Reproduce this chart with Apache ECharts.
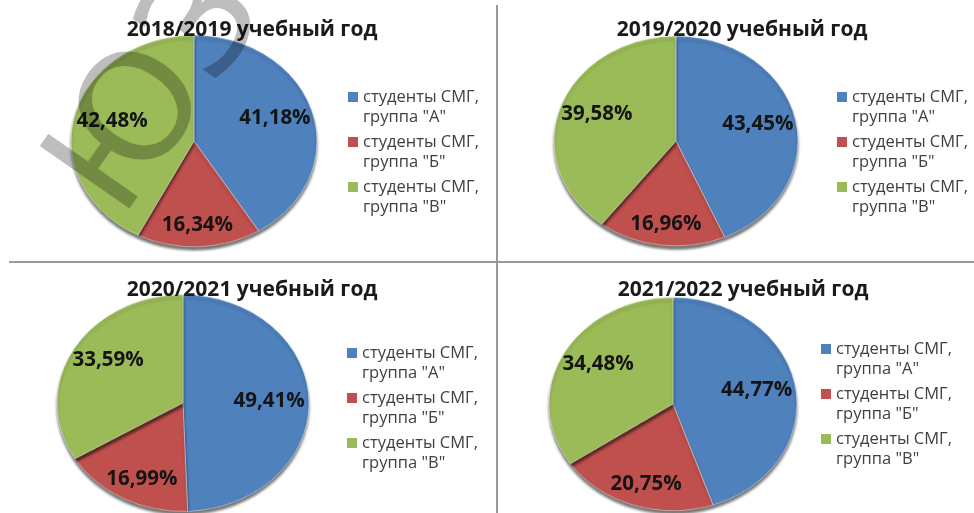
<!DOCTYPE html>
<html>
<head>
<meta charset="utf-8">
<script src="https://cdn.jsdelivr.net/npm/echarts@6/dist/echarts.min.js"></script>
<style>
  html, body { margin: 0; padding: 0; background: #fff; }
  .wrap { position: relative; width: 974px; height: 513px; overflow: hidden; }
  #pies { position: absolute; left: 0; top: 0; width: 974px; transform-origin: 0 0; }
  #main { position: absolute; left: 0; top: 0; width: 974px; height: 513px; }
</style>
</head>
<body>
<div class="wrap">
  <div id="pies"></div>
  <div id="main"></div>
</div>
<script>
// данные по учебным годам
const years = ['2018/2019', '2019/2020', '2020/2021', '2021/2022'];
const groupNames = ['студенты СМГ,\nгруппа "А"', 'студенты СМГ,\nгруппа "Б"', 'студенты СМГ,\nгруппа "В"'];
const groupA = [41.18, 43.45, 49.41, 44.77];
const groupB = [16.34, 16.96, 16.99, 20.75];
const groupV = [42.48, 39.58, 33.59, 34.48];
const colors = ['#4f81bd', '#c0504d', '#9bbb59'];

// раскладка четырёх диаграмм
const SY = 0.86; // сплющивание круга в эллипс
const centers = [[194, 141], [676, 141], [183, 403], [673, 404]];
const radii = [123, 122, 126, 124];
const titlePos = [[247, 15], [737, 15], [247, 275], [738, 275]];
const legendPos = [[348, 87], [837, 87], [347, 343], [821, 339]];

const font = '"Open Sans", "DejaVu Sans", sans-serif';
// квадратик легенды прижат к первой строке подписи
const legendIcon = 'path://M0,0L10,0L10,10L0,10Z M0,29.9L0.1,29.9L0.1,30L0,30Z';

function sliceData(i) {
  return [groupA[i], groupB[i], groupV[i]].map((v, k) => ({
    name: groupNames[k],
    value: v,
  }));
}

// нижний слой: сами секторы, растянутые в эллипс
const piesEl = document.getElementById('pies');
piesEl.style.height = (513 / SY) + 'px';
piesEl.style.transform = 'scaleY(' + SY + ')';
const pieChart = echarts.init(piesEl, null, { renderer: 'canvas' });
pieChart.setOption({
  animation: false,
  color: colors,
  series: years.map((y, i) => ({
    type: 'pie',
    silent: true,
    startAngle: 90,
    center: [centers[i][0], centers[i][1] / SY],
    radius: [0, radii[i]],
    label: { show: false },
    labelLine: { show: false },
    itemStyle: {
      borderColor: 'rgba(255,255,255,0.45)',
      borderWidth: 1,
      shadowColor: 'rgba(0,0,0,0.55)',
      shadowBlur: 3,
      shadowOffsetY: 4,
    },
    data: sliceData(i),
  })),
});

// верхний слой: подписи, заголовки, легенды, линии
const chart = echarts.init(document.getElementById('main'), null, { renderer: 'canvas' });
chart.setOption({
  animation: false,
  title: years.map((y, i) => ({
    text: y + ' учебный год',
    left: titlePos[i][0],
    top: titlePos[i][1],
    textAlign: 'center',
    textStyle: { fontFamily: font, fontSize: 21, fontWeight: 'bold', color: '#1a1a1a' },
  })),
  legend: years.map((y, i) => ({
    orient: 'vertical',
    left: legendPos[i][0],
    top: legendPos[i][1],
    padding: 0,
    icon: legendIcon,
    itemWidth: 10,
    itemHeight: 30,
    itemGap: 5,
    selectedMode: false,
    textStyle: { fontFamily: font, fontSize: 16.5, color: '#404040', lineHeight: 20 },
    data: groupNames.map((n, k) => ({ name: n, itemStyle: { color: colors[k], opacity: 1 } })),
  })),
  series: years.map((y, i) => ({
    type: 'pie',
    silent: true,
    startAngle: 90,
    center: centers[i],
    radius: [0, radii[i] * 1.32],
    itemStyle: { color: 'rgba(0,0,0,0)', borderWidth: 0 },
    labelLine: { show: false },
    label: {
      show: true,
      position: 'inside',
      fontFamily: font,
      fontSize: 20.5,
      fontWeight: 'bold',
      color: '#141414',
      formatter: (p) => p.value.toFixed(2).replace('.', ',') + '%',
    },
    data: sliceData(i),
  })),
  graphic: [
    { type: 'line', silent: true, shape: { x1: 497, y1: 5, x2: 497, y2: 513 },
      style: { stroke: '#9a9a9a', lineWidth: 2 } },
    { type: 'line', silent: true, shape: { x1: 9, y1: 262, x2: 974, y2: 262 },
      style: { stroke: '#9a9a9a', lineWidth: 2 } },
    // водяной знак
    { type: 'text', silent: true, x: 150, y: 242, rotation: 0.96, z: 100,
      style: { text: 'ЮЗГУ', fontFamily: '"DejaVu Sans", sans-serif', fontSize: 150,
        fill: 'rgba(0,0,0,0.26)', textAlign: 'left', textVerticalAlign: 'bottom' } },
  ],
});
</script>
</body>
</html>
